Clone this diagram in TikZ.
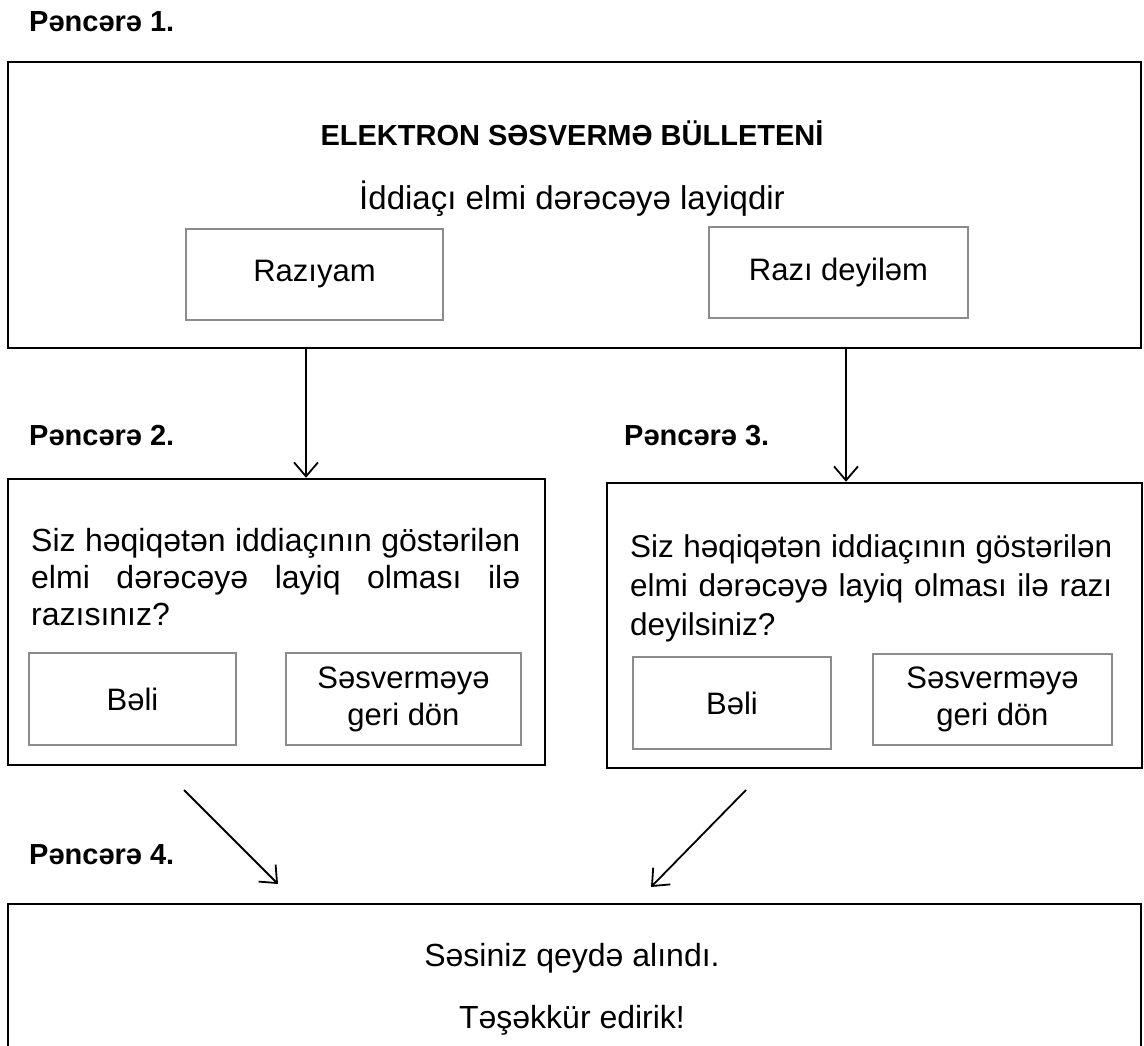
\documentclass[tikz,border=0pt]{standalone}
\usepackage{fontspec}
\setmainfont{Liberation Sans}
\usetikzlibrary{arrows.meta}
\definecolor{btngray}{RGB}{140,140,140}

\begin{document}
\begin{tikzpicture}[x=1pt,y=-1pt]
                \useasboundingbox (0,0) rectangle (1144,1046);
                \begin{scope}[every node/.style={draw=black, line width=2.5pt, rectangle, inner sep=0pt}]
                        \node[minimum width=1133pt, minimum height=286pt] (W1) at (574.5,205) {};
                        \node[minimum width=537pt, minimum height=286pt] (W2) at (276.5,622) {};
                        \node[minimum width=535pt, minimum height=285pt] (W3) at (874.5,625.5) {};
                        \node[minimum width=1133pt, minimum height=166pt] (W4) at (574.5,987) {};
                \end{scope}
                \begin{scope}[every node/.style={draw=btngray, line width=2pt, rectangle, inner sep=0pt, align=center, font=\fontsize{31}{37}\selectfont}]
                        \node[minimum width=257pt, minimum height=91pt] (yes1) at (314.5,274.5) {Razıyam};
                        \node[minimum width=259pt, minimum height=91pt] (no1) at (838.5,272.5) {Razı deyiləm};
                        \node[minimum width=207pt, minimum height=92pt] (yes2) at (132.5,699) {Bəli};
                        \node[minimum width=235pt, minimum height=92pt] (back2) at (403.5,699) {Səsverməyə\\geri dön};
                        \node[minimum width=198pt, minimum height=92pt] (yes3) at (732,703) {Bəli};
                        \node[minimum width=239pt, minimum height=91pt] (back3) at (992.5,699.5) {Səsverməyə\\geri dön};
                \end{scope}
                \begin{scope}[every node/.style={anchor=base west, inner sep=0pt, font=\bfseries\fontsize{29}{34}\selectfont}]
                        \node (P1) at (29,32) {Pəncərə 1.};
                        \node (P2) at (29,445) {Pəncərə 2.};
                        \node (P3) at (624,445) {Pəncərə 3.};
                        \node (P4) at (29,864) {Pəncərə 4.};
                \end{scope}
                \begin{scope}[every node/.style={inner sep=0pt}]
                        \node[anchor=base, font=\bfseries\fontsize{29}{34}\selectfont] (title) at (572,146) {ELEKTRON SƏSVERMƏ BÜLLETENİ};
                        \node[anchor=base, font=\fontsize{33}{38}\selectfont] (claim) at (572,209) {İddiaçı elmi dərəcəyə layiqdir};
                        \node[anchor=north west, text width=489pt, align=justify, font=\fontsize{32}{37}\selectfont] (ask2) at (31,528.5)
                                {Siz həqiqətən iddiaçının göstərilən\linebreak elmi dərəcəyə layiq olması ilə\linebreak razısınız?};
                        \node[anchor=north west, text width=482pt, align=justify, font=\fontsize{31.5}{39}\selectfont] (ask3) at (630,534.5)
                                {Siz həqiqətən iddiaçının göstərilən\linebreak elmi dərəcəyə layiq olması ilə razı\linebreak deyilsiniz?};
                        \node[anchor=base, font=\fontsize{32}{37}\selectfont] (done) at (572,966) {Səsiniz qeydə alındı.};
                        \node[anchor=base, font=\fontsize{32}{37}\selectfont] (thanks) at (572,1028) {Təşəkkür edirik!};
                \end{scope}
                \coordinate (x1) at (306,0);
                \coordinate (x2) at (846,0);
                \coordinate (d1s) at (184,790);
                \coordinate (d1e) at (278,884);
                \coordinate (d2s) at (746,790);
                \coordinate (d2e) at (651,887);
                \begin{scope}[every path/.style={line width=1.8pt, -{Straight Barb[length=14pt, width=24pt]}}]
                        \path (W1.south -| x1) edge (W2.north -| x1);
                        \path (W1.south -| x2) edge (W3.north -| x2);
                        \path (d1s) edge (d1e);
                        \path (d2s) edge (d2e);
                \end{scope}
        \end{tikzpicture}
\end{document}
